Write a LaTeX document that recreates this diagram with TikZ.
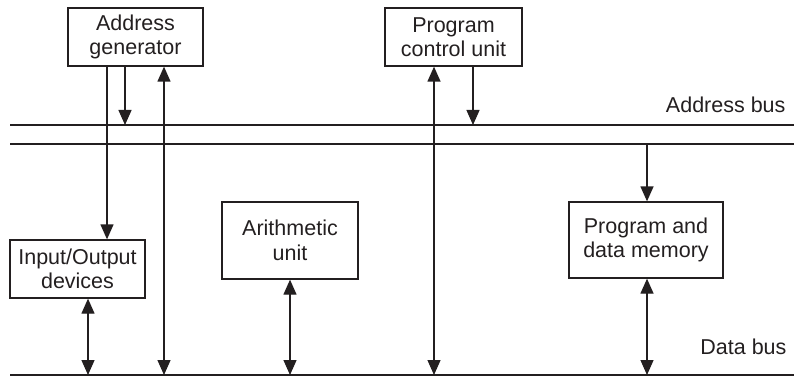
\documentclass[tikz,border=0pt]{standalone}
\usepackage{fontspec}
\setmainfont{Liberation Sans}
\usepackage{tikz}
\usetikzlibrary{arrows.meta,positioning}
\definecolor{Ink}{HTML}{231F20}

\begin{document}
\begin{tikzpicture}[
  x=1pt,y=-1pt,
  every node/.style={font=\fontsize{21.5}{24.5}\selectfont,text=Ink},
  unit/.style={draw=Ink,line width=1.3pt,align=center,inner sep=0pt},
  bus/.style={draw=Ink,line width=1.3pt},
  arr/.style={-{Triangle[length=15pt,width=13pt]},line width=1.3pt,Ink},
  darr/.style={{Triangle[length=15pt,width=13pt]}-{Triangle[length=15pt,width=13pt]},line width=1.3pt,Ink}
]
\useasboundingbox (0,0) rectangle (794,390);
% units
\node[unit,minimum width=135pt,minimum height=58pt] (agen) at (135.5,37) {Address\\generator};
\node[unit,minimum width=137pt,minimum height=58pt] (pcu) at (453.5,37) {Program\\control unit};
\node[unit,minimum width=135pt,minimum height=58pt] (io) at (77.5,269) {Input/Output\\devices};
\node[unit,minimum width=136pt,minimum height=77pt] (alu) at (290,240.5) {Arithmetic\\unit};
\node[unit,minimum width=154pt,minimum height=76pt] (mem) at (646,240) {Program and\\data memory};
% buses
\coordinate (abL) at (10,125); \coordinate (abR) at (794,125);
\coordinate (ab2L) at (10,144); \coordinate (ab2R) at (794,144);
\coordinate (dbL) at (10,375); \coordinate (dbR) at (794,375);
\draw[bus] (abL) -- (abR);
\draw[bus] (ab2L) -- (ab2R);
\draw[bus] (dbL) -- (dbR);
\node[anchor=base east] (ablabel) at (789,113) {Address bus};
\node[anchor=base east] (dblabel) at (790,354) {Data bus};
% taps
\coordinate (ag-addr) at (125,125);
\coordinate (ag-data) at (164,375);
\coordinate (pc-addr) at (473,125);
\coordinate (pc-data) at (434,375);
\coordinate (mem-addr) at (647,144);
\coordinate (io-in) at (107,240);
\coordinate (io-data) at (88,375);
\coordinate (au-data) at (290,375);
\coordinate (mem-data) at (647,375);
% connections
\draw[arr] (agen.south -| ag-addr) -- (ag-addr);
\draw[arr] (agen.south -| io-in) -- (io.north -| io-in);
\draw[darr] (agen.south -| ag-data) -- (ag-data);
\draw[arr] (pcu.south -| pc-addr) -- (pc-addr);
\draw[darr] (pcu.south -| pc-data) -- (pc-data);
\draw[arr] (mem-addr) -- (mem.north -| mem-addr);
\draw[darr] (io.south -| io-data) -- (io-data);
\draw[darr] (alu.south -| au-data) -- (au-data);
\draw[darr] (mem.south -| mem-data) -- (mem-data);
\end{tikzpicture}
\end{document}
